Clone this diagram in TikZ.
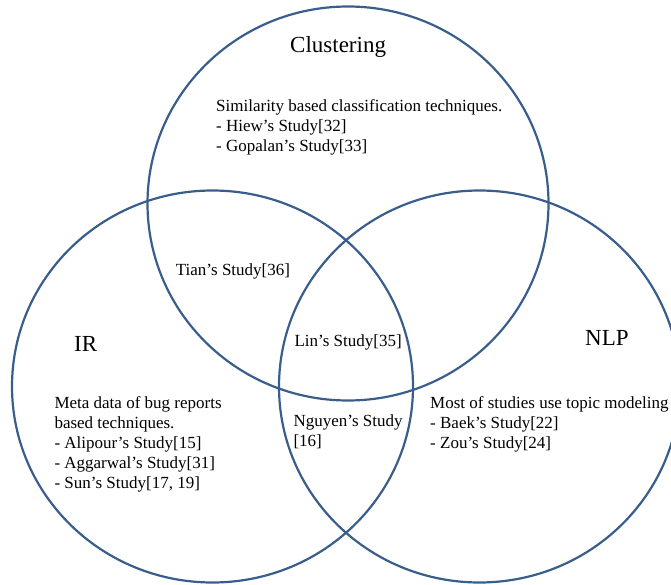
\documentclass[tikz,border=0pt]{standalone}
\usepackage{fontspec}
\setmainfont{Liberation Serif}
\definecolor{venn}{HTML}{3A5E8C}
\newcommand{\blk}[1]{\begin{tabular}[t]{@{}l@{}}#1\end{tabular}}
\begin{document}
\begin{tikzpicture}[x=1pt,y=-1pt,
  setring/.style={draw=venn, line width=2.2pt},
  lbl/.style={anchor=base west, inner sep=0pt, font=\fontsize{17}{20}\selectfont},
  ttl/.style={anchor=base west, inner sep=0pt, font=\fontsize{23}{27}\selectfont}]
\useasboundingbox (0,0) rectangle (671,585);
\draw[setring] (348,203.5) ellipse [x radius=200.5, y radius=197];
\draw[setring] (212.5,386.5) ellipse [x radius=200.5, y radius=196];
\draw[setring] (479.5,386.5) ellipse [x radius=200.5, y radius=196];
\node[ttl] (clust) at (290,53) {Clustering};
\node[lbl] (simi) at (216,112) {\blk{Similarity based classification techniques.\\- Hiew’s Study[32]\\- Gopalan’s Study[33]}};
\node[ttl] (ir) at (74,351.7) {IR};
\node[lbl] (meta) at (54.3,408.3) {\blk{Meta data of bug reports\\based techniques.\\- Alipour’s Study[15]\\- Aggarwal’s Study[31]\\- Sun’s Study[17, 19]}};
\node[lbl] (tian) at (175.7,275.7) {Tian’s Study[36]};
\node[lbl] (lin) at (294.3,346) {Lin’s Study[35]};
\node[lbl] (nguyen) at (293.3,426.7) {\blk{Nguyen’s Study\\{[16]}}};
\node[ttl] (nlp) at (585,345) {NLP};
\node[lbl] (most) at (430,408.3) {\blk{Most of studies use topic modeling\\- Baek’s Study[22]\\- Zou’s Study[24]}};
\end{tikzpicture}
\end{document}
